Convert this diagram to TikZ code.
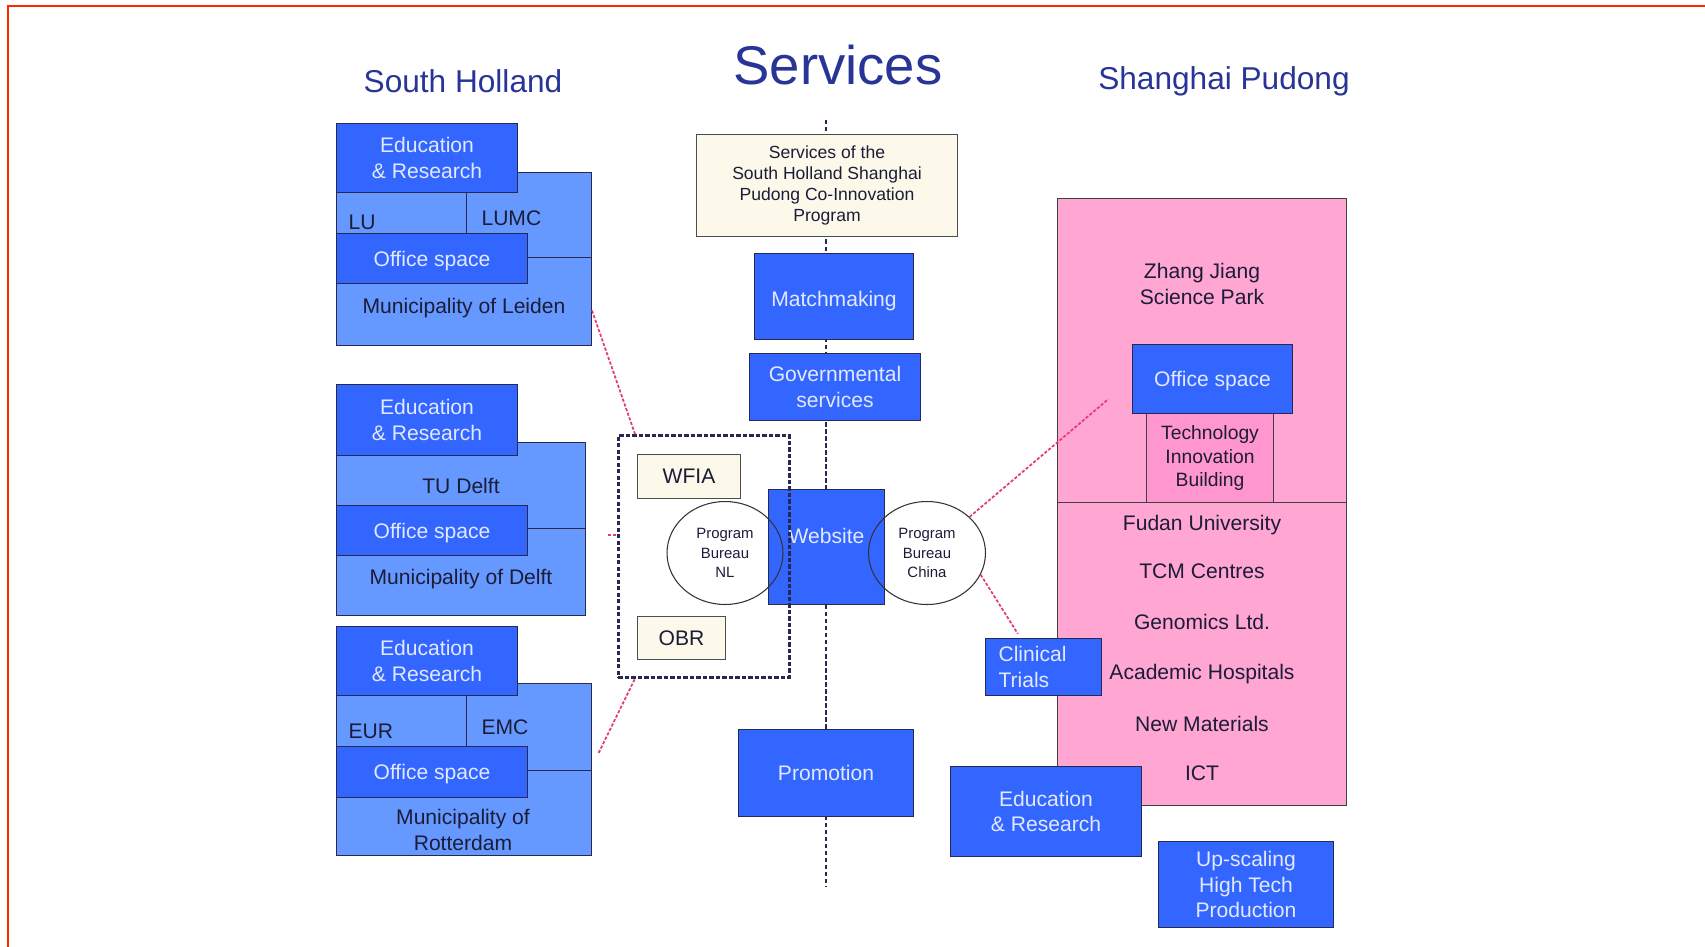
\documentclass[tikz,border=0pt]{standalone}
\usepackage{fontspec}
\setmainfont{Liberation Sans}
\usetikzlibrary{shapes.geometric}

\definecolor{darkblue}{RGB}{51,102,255}
\definecolor{lightblue}{RGB}{102,153,255}
\definecolor{paletext}{RGB}{225,232,255}
\definecolor{inktext}{RGB}{28,28,56}
\definecolor{edgeline}{RGB}{40,40,80}
\definecolor{cream}{RGB}{252,249,234}
\definecolor{parkpink}{RGB}{255,166,211}
\definecolor{buildpink}{RGB}{255,150,205}
\definecolor{linkpink}{RGB}{225,60,125}
\definecolor{titleblue}{RGB}{40,52,150}
\definecolor{framered}{RGB}{255,40,0}

\begin{document}
\begin{tikzpicture}[x=0.02cm,y=-0.02cm,font=\fontsize{12}{14.5}\selectfont,
        panel/.style={rectangle,draw=edgeline,line width=0.6pt,anchor=north west,inner sep=0pt,align=center},
        darkpanel/.style={panel,fill=darkblue,text=paletext},
        lightpanel/.style={panel,fill=lightblue,text=inktext},
        notepanel/.style={panel,fill=cream,text=inktext,draw=gray!60!black},
        pinkpanel/.style={panel,fill=parkpink,text=inktext,draw=gray!50!black},
        paneltext/.style={text=inktext,align=center,inner sep=0pt},
        bureau/.style={ellipse,draw=gray!40!black,line width=0.6pt,inner sep=0pt,align=center,
          font=\fontsize{8.5}{11}\selectfont,text=inktext},
        hubframe/.style={rectangle,draw=edgeline,line width=1.5pt,dash pattern=on 2.5pt off 1.2pt,
          anchor=north west,inner sep=0pt},
        spine/.style={draw=edgeline,line width=1.5pt,dash pattern=on 2.5pt off 1.5pt},
        pinklink/.style={draw=linkpink,line width=1pt,dash pattern=on 1.8pt off 1pt},
        heading/.style={text=titleblue,anchor=base,inner sep=0pt}]

  \useasboundingbox (0,0) rectangle (1705,947);
  \draw[framered,line width=1.7pt] (8,947) -- (8,6) -- (1705,6);

  \node[heading,font=\fontsize{31}{31}\selectfont] (Services Title) at (838,84) {Services};
  \node[heading,font=\fontsize{18}{18}\selectfont] (South Holland Title) at (463,92) {South Holland};
  \node[heading,font=\fontsize{18}{18}\selectfont] (Shanghai Title) at (1224,89) {Shanghai Pudong};

  \coordinate (Spine Top) at (826,120);
  \coordinate (Spine Bottom) at (826,887);
  \draw[spine] (Spine Top) -- (Spine Bottom);

  \node[lightpanel,minimum width=2.6cm,minimum height=1.3cm,text width=2.12cm,inner xsep=0.24cm,align=left,text depth=0.13cm] (LU) at (336,192) {LU};
  \node[lightpanel,minimum width=2.5cm,minimum height=1.7cm,text width=1.9cm,inner xsep=0.3cm,align=left,text height=0.44cm] (LUMC) at (466,172) {LUMC};
  \node[lightpanel,minimum width=5.1cm,minimum height=1.76cm,text height=0.57cm] (Leiden Municipality) at (336,257) {Municipality of Leiden};
  \node[darkpanel,minimum width=3.62cm,minimum height=1.38cm] (Leiden Education) at (336,123) {Education\\\& Research};
  \node[darkpanel,minimum width=3.82cm,minimum height=1cm,text height=0.4cm] (Leiden Office) at (336,233) {Office space};

  \node[lightpanel,minimum width=4.98cm,minimum height=1.72cm] (TU Delft) at (336,442) {TU Delft};
  \node[lightpanel,minimum width=4.98cm,minimum height=1.74cm,text height=0.58cm] (Delft Municipality) at (336,528) {Municipality of Delft};
  \node[darkpanel,minimum width=3.62cm,minimum height=1.42cm] (Delft Education) at (336,384) {Education\\\& Research};
  \node[darkpanel,minimum width=3.82cm,minimum height=1cm,text height=0.4cm] (Delft Office) at (336,505) {Office space};

  \node[lightpanel,minimum width=2.6cm,minimum height=1.5cm,text width=2.12cm,inner xsep=0.24cm,align=left,text depth=0.08cm] (EUR) at (336,695) {EUR};
  \node[lightpanel,minimum width=2.5cm,minimum height=1.74cm,text width=1.9cm,inner xsep=0.3cm,align=left] (EMC) at (466,683) {EMC};
  \node[lightpanel,minimum width=5.1cm,minimum height=1.7cm] (Rotterdam Municipality) at (336,770) {};
  \node[darkpanel,minimum width=3.62cm,minimum height=1.38cm] (Rotterdam Education) at (336,626) {Education\\\& Research};
  \node[darkpanel,minimum width=3.82cm,minimum height=1.02cm,text height=0.4cm] (Rotterdam Office) at (336,746) {Office space};
  \node[paneltext] (Rotterdam Name) at (463,830) {Municipality of\\Rotterdam};

  \node[notepanel,minimum width=5.22cm,minimum height=2.04cm,font=\fontsize{10}{12}\selectfont] (Services) at (696,134)
    {Services of the\\South Holland Shanghai\\Pudong Co-Innovation\\Program};
  \node[darkpanel,minimum width=3.18cm,minimum height=1.72cm,text height=0.49cm] (Matchmaking) at (754,253) {Matchmaking};
  \node[darkpanel,minimum width=3.42cm,minimum height=1.34cm] (Governmental) at (749,353) {Governmental\\services};
  \node[darkpanel,minimum width=2.32cm,minimum height=2.3cm,text depth=0.44cm] (Website) at (768,489) {Website};
  \node[darkpanel,minimum width=3.5cm,minimum height=1.74cm] (Promotion) at (738,729) {Promotion};
  \node[notepanel,minimum width=2.06cm,minimum height=0.88cm] (WFIA) at (637,454) {WFIA};
  \node[notepanel,minimum width=1.76cm,minimum height=0.86cm] (OBR) at (637,616) {OBR};
  \node[bureau,minimum width=2.32cm,minimum height=2.06cm] (Bureau NL) at (725,553) {Program\\Bureau\\NL};
  \node[bureau,minimum width=2.34cm,minimum height=2.06cm] (Bureau China) at (927,553) {Program\\Bureau\\China};
  \node[hubframe,minimum width=3.42cm,minimum height=4.84cm] (NL Hub) at (617,434) {};

  \node[pinkpanel,minimum width=5.78cm,minimum height=6.08cm] (Zhang Jiang) at (1057,198) {};
  \node[pinkpanel,minimum width=5.78cm,minimum height=6.06cm] (Pudong Campus) at (1057,502) {};
  \node[paneltext] (Zhang Jiang Name) at (1202,284) {Zhang Jiang\\Science Park};
  \node[pinkpanel,fill=buildpink,minimum width=2.54cm,minimum height=1.78cm,font=\fontsize{11}{13.4}\selectfont] (Tech Building) at (1146,413)
    {Technology\\Innovation\\Building};
  \node[darkpanel,minimum width=3.2cm,minimum height=1.38cm,text height=0.4cm] (Pudong Office) at (1132,344) {Office space};
  \foreach \ypos/\name [count=\i] in {525/Fudan University,571/TCM Centres,622/Genomics Ltd.,674/Academic Hospitals,724/New Materials,773/ICT}
    \node[paneltext] (Pudong \i) at (1202,\ypos) {\name};
  \node[darkpanel,minimum width=2.32cm,minimum height=1.14cm,text width=1.8cm,inner xsep=0.26cm,align=left] (Clinical Trials) at (985,638) {Clinical\\Trials};
  \node[darkpanel,minimum width=3.82cm,minimum height=1.8cm] (Pudong Education) at (950,766) {Education\\\& Research};
  \node[darkpanel,minimum width=3.5cm,minimum height=1.72cm] (Upscaling) at (1158,841) {Up-scaling\\High Tech\\Production};

  \coordinate (Hub Stub) at (608,535);
  \path (Leiden Municipality.-4) edge[pinklink] ([xshift=0.36cm]NL Hub.north west)
        (EMC.-32) edge[pinklink,shorten <=0.3cm] ([xshift=0.36cm]NL Hub.south west)
        (Hub Stub) edge[pinklink] (Hub Stub -| NL Hub.west)
        (Bureau China) edge[pinklink,shorten >=0.62cm] (Pudong Office.west)
        (Bureau China.-22) edge[pinklink,shorten >=0.1cm] ([xshift=-0.46cm]Clinical Trials.north);
\end{tikzpicture}
\end{document}
